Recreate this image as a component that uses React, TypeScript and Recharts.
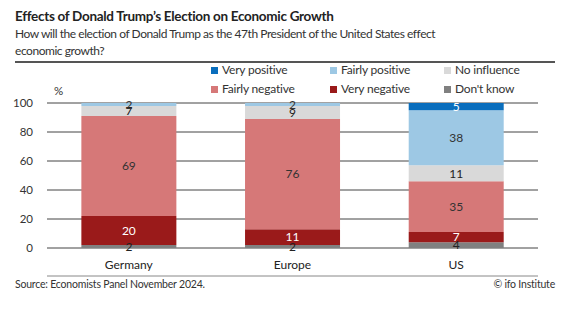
import React from 'react';
import { Bar, BarChart, CartesianGrid, LabelList, XAxis, YAxis } from 'recharts';

const regions = ['Germany', 'Europe', 'US'];

const dontKnow = [2, 2, 4];
const veryNegative = [20, 11, 7];
const fairlyNegative = [69, 76, 35];
const noInfluence = [7, 9, 11];
const fairlyPositive = [2, 2, 38];
const veryPositive = [0, 0, 5];

const yTicks = [0, 20, 40, 60, 80, 100];

// stacked bottom -> top
const series = [
  { key: 'dontKnow', name: "Don't know", values: dontKnow, color: '#808080', label: '#222' },
  { key: 'veryNegative', name: 'Very negative', values: veryNegative, color: '#9a1a1a', label: '#fff' },
  { key: 'fairlyNegative', name: 'Fairly negative', values: fairlyNegative, color: '#d67878', label: '#333' },
  { key: 'noInfluence', name: 'No influence', values: noInfluence, color: '#d9d9d9', label: '#222' },
  { key: 'fairlyPositive', name: 'Fairly positive', values: fairlyPositive, color: '#9dc8e4', label: '#333' },
  { key: 'veryPositive', name: 'Very positive', values: veryPositive, color: '#0a6ebd', label: '#fff' },
];

// legend order as printed (row by row)
const legendOrder = ['veryPositive', 'fairlyPositive', 'noInfluence', 'fairlyNegative', 'veryNegative', 'dontKnow'];

const data = regions.map((region, i) => {
  const row: Record<string, string | number> = { region };
  series.forEach((s) => {
    row[s.key] = s.values[i];
  });
  return row;
});

const font = 'Lato, "Noto Sans", sans-serif';

const App: React.FC = () => {
  return (
    <div style={{ position: 'absolute', left: 0, top: 0, width: 570, height: 331, background: '#fff', fontFamily: font, color: '#333' }}>
      <div style={{ position: 'absolute', left: 15, top: 8, fontSize: 13.5, fontWeight: 700, color: '#222', letterSpacing: -0.3 }}>
        Effects of Donald Trump’s Election on Economic Growth
      </div>
      <div style={{ position: 'absolute', left: 15, top: 25, width: 520, fontSize: 12, lineHeight: '17px', color: '#333', letterSpacing: -0.45 }}>
        How will the election of Donald Trump as the 47th President of the United States effect
        <br />
        economic growth?
      </div>
      <div style={{ position: 'absolute', left: 15, top: 61, width: 540, height: 2, background: '#555' }} />

      <div style={{ position: 'absolute', left: 54, top: 84, fontSize: 11.5 }}>%</div>

      <div style={{ position: 'absolute', left: 211, top: 62, width: 350, display: 'grid', gridTemplateColumns: '119px 114px 110px', rowGap: 3 }}>
        {legendOrder.map((k) => {
          const s = series.find((x) => x.key === k)!;
          return (
            <div key={k} style={{ display: 'flex', alignItems: 'center', fontSize: 12, lineHeight: '16px', color: '#333', letterSpacing: -0.2 }}>
              <span style={{ width: 7, height: 7, background: s.color, marginRight: 4 }} />
              {s.name}
            </div>
          );
        })}
      </div>

      <div style={{ position: 'absolute', left: 0, top: 0 }}>
        <BarChart
          width={570}
          height={331}
          data={data}
          margin={{ top: 103, right: 32, bottom: 53, left: 0 }}
          barCategoryGap="21%"
        >
          <CartesianGrid horizontal vertical={false} stroke="#444" />
          <YAxis
            width={47}
            domain={[0, 100]}
            ticks={yTicks}
            axisLine={false}
            tickLine={false}
            tickSize={0}
            tickMargin={14}
            tick={{ fontSize: 11.5, fill: '#333', fontFamily: font }}
          />
          <XAxis
            xAxisId="num"
            type="number"
            domain={[0, 3]}
            ticks={[0, 1, 2, 3]}
            allowDataOverflow
            height={2}
            stroke="#888"
            tickSize={5}
            tick={false}
          />
          <XAxis
            xAxisId="cat"
            dataKey="region"
            height={28}
            axisLine={false}
            tickLine={false}
            tickMargin={6}
            tick={{ fontSize: 12, fill: '#222', fontFamily: font }}
          />
          {series.map((s) => (
            <Bar key={s.key} dataKey={s.key} name={s.name} stackId="a" xAxisId="cat" fill={s.color} isAnimationActive={false}>
              <LabelList
                dataKey={s.key}
                position="center"
                fill={s.label}
                fontSize={12}
                fontFamily={font}
                formatter={(v: any) => (v ? v : '')}
              />
            </Bar>
          ))}
        </BarChart>
      </div>

      <div style={{ position: 'absolute', left: 15, top: 278, fontSize: 10.5, color: '#333', letterSpacing: -0.2 }}>
        Source: Economists Panel November 2024.
      </div>
      <div style={{ position: 'absolute', right: 15, top: 278, fontSize: 10.5, color: '#333', letterSpacing: -0.2 }}>© ifo Institute</div>
    </div>
  );
};

export default App;
